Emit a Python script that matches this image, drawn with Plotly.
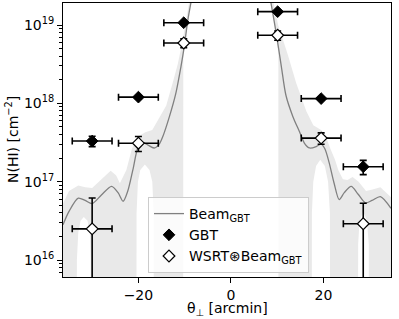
import plotly.graph_objects as go

# ---- data ----
# GBT measurements
gbt_theta = [-30.0, -20.0, -10.2, 10.1, 19.5, 28.6]
gbt_N = [3.3e17, 1.2e18, 1.07e19, 1.48e19, 1.15e18, 1.55e17]
gbt_Nerr = [0.5e17, 0.6e17, 0.4e18, 0.5e18, 0.5e17, 0.32e17]
theta_err = [4.3, 4.3, 4.3, 4.3, 4.3, 4.3]

# WSRT convolved with GBT beam
wsrt_theta = [-30.0, -20.0, -10.2, 10.1, 19.5, 28.6]
wsrt_N = [2.5e16, 3.1e17, 5.9e18, 7.4e18, 3.6e17, 2.9e16]
wsrt_Nerr_up = [3.7e16, 0.67e17, 0.75e18, 1.0e18, 0.6e17, 2.4e16]
wsrt_Nerr_dn = [2.49e16, 0.67e17, 0.75e18, 1.0e18, 0.6e17, 2.89e16]

# GBT beam profile (log10 N)
beam_theta = [-36.3, -35.0, -33.0, -31.5, -30.0, -28.0, -25.8, -24.4, -23.3, -22.3,
              -21.2, -20.0, -19.0, -18.0, -16.6, -15.5, -14.7, -13.3, -11.9, -10.8,
              -10.1, -9.35, -8.6, -7.0, -4.0, 0.0, 4.0, 7.0, 8.6, 9.8,
              10.9, 11.9, 13.4, 14.8, 15.9, 17.0, 18.5, 19.5, 20.3, 21.2,
              22.3, 23.4, 24.5, 26.0, 27.5, 29.1, 30.5, 32.3, 34.6]
beam_log = [16.45, 16.62, 16.79, 16.76, 16.72, 16.83, 16.94, 16.86, 16.75, 16.88,
            17.15, 17.45, 17.50, 17.47, 17.43, 17.48, 17.58, 17.83, 18.13, 18.47,
            18.72, 19.05, 19.30, 19.80, 20.40, 20.70, 20.40, 19.80, 19.30, 18.89,
            18.47, 18.10, 17.83, 17.64, 17.49, 17.43, 17.45, 17.48, 17.42, 17.25,
            16.98, 16.77, 16.86, 16.94, 16.84, 16.73, 16.76, 16.81, 16.66]

# beam uncertainty band: upper envelope (log10 N)
band_up_theta = [-36.3, -35.0, -33.0, -31.5, -30.0, -28.0, -26.0, -24.8, -24.0, -22.6,
                 -21.4, -20.0, -18.5, -17.0, -16.0, -14.0, -12.6, -11.5, -10.5, -9.6,
                 -8.8, -7.0, 0.0, 7.0, 8.8, 10.2, 12.3, 14.1, 16.3, 17.8,
                 19.5, 20.5, 21.5, 22.5, 23.2, 24.2, 25.2, 26.3, 27.6, 29.2,
                 30.6, 32.3, 34.6]
band_up_log = [16.72, 16.88, 16.95, 16.93, 16.92, 17.03, 17.14, 17.08, 16.98, 17.15,
               17.42, 17.58, 17.63, 17.66, 17.76, 17.97, 18.26, 18.50, 18.78, 19.10,
               19.40, 20.00, 20.90, 20.00, 19.40, 19.00, 18.62, 18.26, 17.90, 17.72,
               17.66, 17.58, 17.42, 17.28, 17.15, 17.03, 17.02, 17.06, 17.00, 16.88,
               16.90, 16.93, 16.80]

# lower envelope (log10 N); 10 = far below the axis (band reaches the bottom)
band_lo_theta = [-36.3, -33.4, -33.3, -33.0, -32.5, -31.8, -31.0, -30.5, -30.3, -30.2,
                 -20.5, -20.4, -20.1, -19.6, -18.6, -17.6, -17.0, -16.7, -16.6,
                 -10.35, -10.3, -9.6, -8.6, -7.0, 0.0, 7.0, 8.6, 9.6, 10.25, 10.3,
                 17.4, 17.5, 17.8, 18.4, 19.3, 20.3, 21.0, 21.4, 21.5,
                 27.4, 27.5, 27.8, 28.6, 29.4, 29.8, 29.9, 34.6]
band_lo_log = [10.0, 10.0, 16.0, 16.35, 16.50, 16.55, 16.50, 16.35, 16.0, 10.0,
               10.0, 16.6, 17.0, 17.15, 17.22, 17.15, 17.0, 16.6, 10.0,
               10.0, 18.66, 19.00, 19.33, 19.85, 20.50, 19.85, 19.30, 18.95, 18.65, 10.0,
               10.0, 16.6, 17.0, 17.2, 17.28, 17.2, 17.0, 16.6, 10.0,
               10.0, 16.2, 16.5, 16.62, 16.5, 16.2, 10.0, 10.0]

x_ticks = [-20, 0, 20]
x_ticklabels = ["\u221220", "0", "20"]
y_ticks = [1e16, 1e17, 1e18, 1e19]
y_ticklabels = ["10<sup>16</sup>", "10<sup>17</sup>", "10<sup>18</sup>", "10<sup>19</sup>"]
x_title = "\u03b8<sub>\u22a5</sub> [arcmin]"
y_title = "N(HI) [cm<sup>\u22122</sup>]"

FONT = "DejaVu Sans"
FS = 14
W, H = 399, 319
ML, MR, MT, MB = 63, 8, 3, 42
PW, PH = W - ML - MR, H - MT - MB

fig = go.Figure()

# band polygon
poly_x = band_up_theta + band_lo_theta[::-1]
poly_y = [10.0 ** v for v in band_up_log] + [10.0 ** v for v in band_lo_log[::-1]]
fig.add_trace(go.Scatter(
    x=poly_x, y=poly_y, mode="lines", fill="toself",
    fillcolor="#e9e9e9", line=dict(width=0), hoverinfo="skip", showlegend=False))

# beam line
fig.add_trace(go.Scatter(
    x=beam_theta, y=[10.0 ** v for v in beam_log], mode="lines",
    line=dict(color="#808080", width=1.3, shape="spline", smoothing=0.8),
    name="Beam<sub>GBT</sub>"))

# GBT points
fig.add_trace(go.Scatter(
    x=gbt_theta, y=gbt_N, mode="markers", name="GBT",
    marker=dict(symbol="diamond", size=9, color="black", line=dict(color="black", width=1)),
    error_x=dict(type="data", array=theta_err, color="black", thickness=1.6, width=3.5),
    error_y=dict(type="data", array=gbt_Nerr, color="black", thickness=1.6, width=3.5)))

# WSRT points
fig.add_trace(go.Scatter(
    x=wsrt_theta, y=wsrt_N, mode="markers", name="WSRT⊛Beam<sub>GBT</sub>",
    marker=dict(symbol="diamond", size=9, color="white", line=dict(color="black", width=1.2)),
    error_x=dict(type="data", array=theta_err, color="black", thickness=1.6, width=3.5),
    error_y=dict(type="data", symmetric=False, array=wsrt_Nerr_up, arrayminus=wsrt_Nerr_dn,
                 color="black", thickness=1.6, width=3.5)))

minor_y = [float(m) * 10.0 ** d for d in range(15, 20) for m in range(2, 10)]

fig.update_layout(
    width=W, height=H,
    margin=dict(l=ML, r=MR, t=MT, b=MB, autoexpand=False),
    paper_bgcolor="white", plot_bgcolor="white",
    font=dict(family=FONT, size=FS, color="black"),
    showlegend=True,
    legend=dict(x=(148 - ML) / PW, y=(H - MB - 273) / PH, xanchor="left", yanchor="bottom",
                bgcolor="rgba(255,255,255,0.8)", bordercolor="#cccccc", borderwidth=1,
                font=dict(family=FONT, size=FS), tracegroupgap=0, itemwidth=30),
    xaxis=dict(range=[-36.3, 34.6], tickmode="array", tickvals=x_ticks,
               ticktext=x_ticklabels, ticks="outside", ticklen=5, tickwidth=1,
               tickcolor="black", showline=True, mirror=True, linecolor="black", linewidth=1,
               showgrid=False, zeroline=False, automargin=False),
    yaxis=dict(type="log", range=[15.783, 19.281], tickmode="array", tickvals=y_ticks,
               ticktext=y_ticklabels,
               ticks="outside", ticklen=5, tickwidth=1, tickcolor="black",
               minor=dict(tickmode="array", tickvals=minor_y, ticks="outside", ticklen=3,
                          tickwidth=0.8, tickcolor="black"),
               showline=True, mirror=True, linecolor="black", linewidth=1,
               showgrid=False, zeroline=False, automargin=False),
    annotations=[
        dict(text=x_title, xref="paper", yref="paper", x=0.5, y=(H - MB - 309) / PH,
             xanchor="center", yanchor="middle", showarrow=False,
             font=dict(family=FONT, size=FS)),
        dict(text=y_title, xref="paper", yref="paper", x=(12 - ML) / PW, y=0.5,
             xanchor="center", yanchor="middle", textangle=-90, showarrow=False,
             font=dict(family=FONT, size=FS)),
    ],
)

fig.write_html("out.html",
               config={"displayModeBar": False},
               post_script="document.body.style.margin='0';document.body.style.padding='0';"
                           "document.documentElement.style.overflow='hidden';")
